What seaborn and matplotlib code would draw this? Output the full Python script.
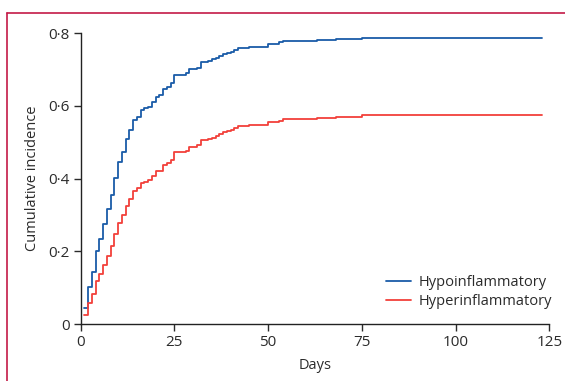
import numpy as np
import pandas as pd
import seaborn as sns
import matplotlib.pyplot as plt
from matplotlib.lines import Line2D

# step times (days) and cumulative incidence
hypo_days = [1, 2, 3, 4, 5, 6, 7, 8, 9, 10, 11, 12, 13, 14, 15, 16, 17, 18, 19,
             20, 21, 22, 23, 24, 25, 28, 29, 31, 32, 34, 35, 36, 37, 38, 39, 40,
             41, 42, 45, 50, 53, 54, 63, 68, 75, 123]
hypo_inc = [0.045, 0.103, 0.144, 0.200, 0.234, 0.276, 0.316, 0.356, 0.402, 0.445,
            0.474, 0.508, 0.533, 0.561, 0.570, 0.588, 0.594, 0.597, 0.612, 0.626,
            0.629, 0.646, 0.653, 0.664, 0.686, 0.692, 0.701, 0.704, 0.721, 0.725,
            0.729, 0.732, 0.738, 0.744, 0.747, 0.749, 0.753, 0.759, 0.763, 0.770,
            0.775, 0.778, 0.782, 0.785, 0.788, 0.788]

hyper_days = [1, 2, 3, 4, 5, 6, 7, 8, 9, 10, 11, 12, 13, 14, 15, 16, 17, 18, 19,
              20, 22, 23, 24, 25, 28, 29, 31, 32, 34, 35, 36, 37, 38, 39, 40, 41,
              42, 45, 50, 53, 54, 63, 68, 75, 123]
hyper_inc = [0.025, 0.059, 0.082, 0.117, 0.137, 0.163, 0.188, 0.215, 0.247, 0.278,
             0.299, 0.324, 0.344, 0.365, 0.374, 0.387, 0.392, 0.396, 0.406, 0.420,
             0.437, 0.443, 0.452, 0.473, 0.477, 0.487, 0.492, 0.506, 0.510, 0.513,
             0.516, 0.522, 0.529, 0.531, 0.535, 0.539, 0.545, 0.549, 0.555, 0.559,
             0.563, 0.566, 0.570, 0.574, 0.574]

groups = ["Hypoinflammatory", "Hyperinflammatory"]
colors = ["#1a5ca8", "#f2403a"]

df = pd.concat([
    pd.DataFrame({"day": hypo_days, "inc": hypo_inc, "group": groups[0]}),
    pd.DataFrame({"day": hyper_days, "inc": hyper_inc, "group": groups[1]}),
])

sns.set_style("ticks")
plt.rcParams["font.family"] = ["Open Sans", "DejaVu Sans"]
plt.rcParams["text.color"] = "#2b2b2b"
plt.rcParams["axes.labelcolor"] = "#2b2b2b"
plt.rcParams["xtick.color"] = "#2b2b2b"
plt.rcParams["ytick.color"] = "#2b2b2b"

fig = plt.figure(figsize=(5.65, 3.81), dpi=100)
ax = fig.add_axes([0.1428, 0.1496, 0.8296, 0.763])

sns.lineplot(data=df, x="day", y="inc", hue="group", hue_order=groups,
             palette=colors, drawstyle="steps-post", linewidth=1.3, ax=ax)

ax.set_xlim(0, 125)
ax.set_ylim(0, 0.8)
ax.set_xticks([0, 25, 50, 75, 100, 125])
ax.set_yticks([0, 0.2, 0.4, 0.6, 0.8])
ax.set_yticklabels(["0", "0·2", "0·4", "0·6", "0·8"])
ax.tick_params(length=5, width=1, labelsize=11, pad=3)
for s in ["top", "right"]:
    ax.spines[s].set_visible(False)
for s in ["left", "bottom"]:
    ax.spines[s].set_linewidth(1)
    ax.spines[s].set_color("#222222")

ax.set_xlabel("Days", fontsize=10.5, labelpad=6)
ax.set_ylabel("Cumulative incidence", fontsize=10.5, labelpad=6)

ax.legend(loc="lower right", bbox_to_anchor=(1.018, 0.03), frameon=False,
          fontsize=10.5, handlelength=1.7, handletextpad=0.5,
          labelspacing=0.3, borderaxespad=0)

# journal-style partial frame
fc = "#c41a47"
fig.add_artist(Line2D([7 / 565, 1.0], [1 - 12.5 / 381] * 2, color=fc, lw=1.2,
                      transform=fig.transFigure))
fig.add_artist(Line2D([7 / 565] * 2, [0, 1 - 12.5 / 381], color=fc, lw=1.2,
                      transform=fig.transFigure))

fig.savefig("out.png", dpi=100)
